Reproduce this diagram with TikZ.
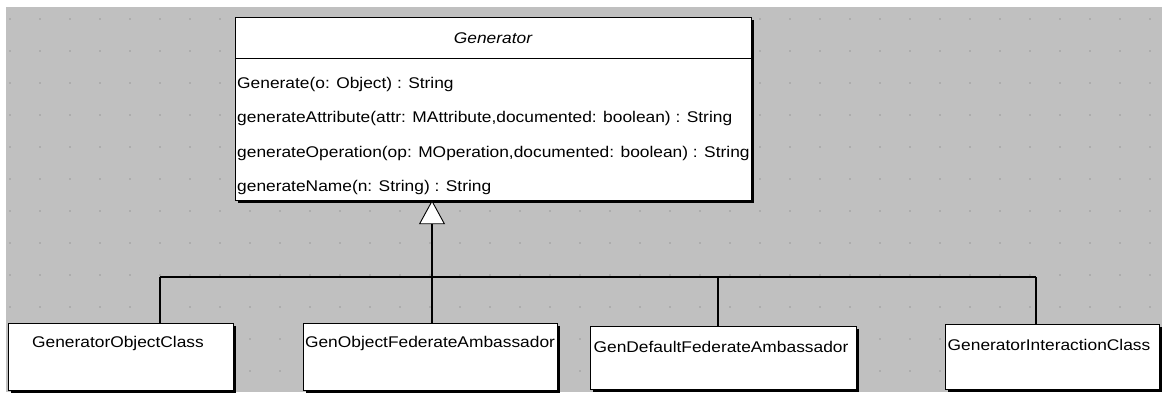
\documentclass[tikz,border=0pt]{standalone}
\usepackage{fontspec}
\setmainfont{Liberation Sans}
\newfontfamily\umlfont[FakeStretch=1.12]{Liberation Sans}
\usetikzlibrary{shadows,arrows.meta}
\definecolor{canvas}{HTML}{C0C0C0}
\definecolor{griddot}{HTML}{ADADAD}
\begin{document}
\begin{tikzpicture}[x=1pt,y=-1pt,
  classbox/.style={draw=black, line width=1.2pt, fill=white, rectangle,
    inner sep=0pt, anchor=north west,
    drop shadow={shadow xshift=2pt, shadow yshift=-2pt, fill=black, opacity=1}},
  umltext/.style={font=\umlfont\fontsize{15.5}{18}\selectfont, inner sep=0pt},
  titletext/.style={font=\umlfont\itshape\fontsize{15.5}{18}\selectfont, inner sep=0pt},
  edge/.style={draw=black, line width=1.3pt}]

\useasboundingbox (0,0) rectangle (1162,392);
\fill[white] (0,0) rectangle (1162,392);
\fill[canvas] (6,7) rectangle (1162,392);
% grid dots of the drawing canvas
\foreach \gx in {10,40,...,1160}
  \foreach \gy in {19,51,...,391}
    \fill[griddot] (\gx-1,\gy-1) rectangle (\gx+1,\gy+1);

% abstract class Generator
\node[classbox, minimum width=516pt, minimum height=183pt] (gen) at (235,17) {};
\draw[line width=1pt] (gen.west |- 0,58) -- (gen.east |- 0,58);
\node[titletext] (gtitle) at (493,38) {Generator};
\node[umltext, anchor=west] (m1) at (237,84) {Generate(o: Object) : String};
\node[umltext, anchor=west] (m2) at (237,118) {generateAttribute(attr: MAttribute,documented: boolean) : String};
\node[umltext, anchor=west] (m3) at (237,153) {generateOperation(op: MOperation,documented: boolean) : String};
\node[umltext, anchor=west] (m4) at (237,187) {generateName(n: String) : String};

% subclasses
\node[classbox, minimum width=225pt, minimum height=67pt] (b1) at (8,323) {};
\node[classbox, minimum width=254pt, minimum height=67pt] (b2) at (303,323) {};
\node[classbox, minimum width=266pt, minimum height=63pt] (b3) at (590,326) {};
\node[classbox, minimum width=214pt, minimum height=65pt] (b4) at (945,324) {};
\node[umltext] (t1) at (118,343) {GeneratorObjectClass};
\node[umltext] (t2) at (430,343) {GenObjectFederateAmbassador};
\node[umltext] (t3) at (721,347) {GenDefaultFederateAmbassador};
\node[umltext] (t4) at (1049,345) {GeneratorInteractionClass};

% generalization tree
\coordinate (j1) at (160,277);
\coordinate (j2) at (432,277);
\coordinate (j3) at (718,277);
\coordinate (j4) at (1036,277);
\draw[edge] (j1) -- (j4);
\draw[edge] (j1) -- (j1 |- b1.north);
\draw[edge] (j2) -- (j2 |- b2.north);
\draw[edge] (j3) -- (j3 |- b3.north);
\draw[edge] (j4) -- (j4 |- b4.north);
\draw[edge, -{Triangle[open, length=24pt, width=26pt, line width=0.9pt, fill=white]}, shorten >=-1pt]
  (j2) -- (j2 |- gen.south);
\end{tikzpicture}
\end{document}
